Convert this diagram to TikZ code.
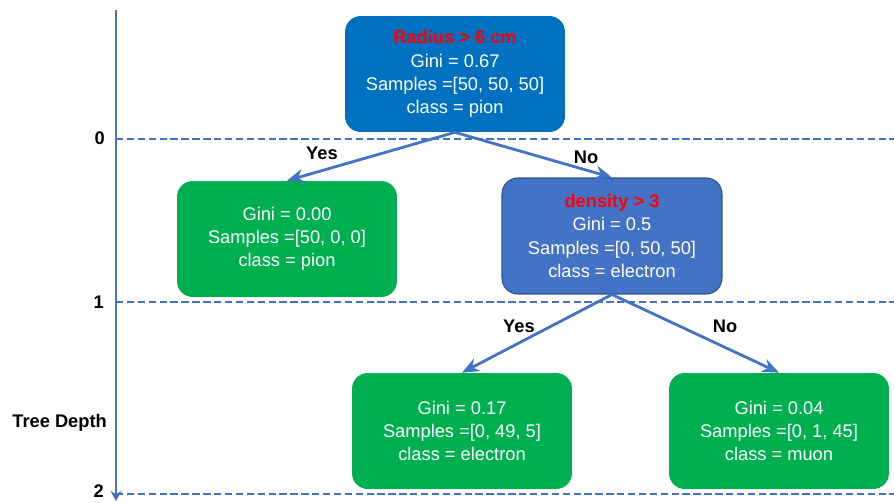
\documentclass[tikz,border=0pt]{standalone}
\usepackage{fontspec}
\setmainfont{Liberation Sans}
\usetikzlibrary{arrows.meta,positioning}
\definecolor{axisblue}{HTML}{4472C4}
\definecolor{rootblue}{HTML}{0070C0}
\definecolor{splitblue}{HTML}{4472C4}
\definecolor{edgeblue}{HTML}{2F528F}
\definecolor{leafgreen}{HTML}{00B050}
\definecolor{condred}{HTML}{FF0000}
\tikzset{
  treebox/.style  = {rectangle, rounded corners=9pt, minimum width=4.4cm,
                     minimum height=2.32cm, align=center, text=white,
                     font=\fontsize{10.4}{13.2}\selectfont},
  rootbox/.style  = {treebox, fill=rootblue},
  splitbox/.style = {treebox, fill=splitblue, draw=edgeblue, line width=0.6pt},
  leafbox/.style  = {treebox, fill=leafgreen},
  branch/.style   = {-{Stealth[length=3.4mm,width=2.8mm]}, axisblue, line width=1.6pt},
  levelline/.style= {axisblue, dash pattern=on 4.2pt off 2pt, line width=1.4pt},
  edgelabel/.style= {font=\fontsize{10.4}{13}\selectfont\bfseries, text=black},
}
\newcommand{\cond}[1]{\textcolor{condred}{\bfseries #1}}
\begin{document}
\begin{tikzpicture}[x=0.02cm,y=-0.02cm]
\useasboundingbox (0,0) rectangle (894,503);
% depth axis and levels
\coordinate (axtop) at (116,10);
\coordinate (axbot) at (116,501);
\draw[axisblue, line width=1.6pt, -{Stealth[length=2mm,width=2.2mm]}] (axtop) -- (axbot);
\coordinate (l0) at (116,139); \coordinate (r0) at (894,139);
\coordinate (l1) at (116,302); \coordinate (r1) at (894,302);
\coordinate (l2) at (116,494); \coordinate (r2) at (894,494);
\draw[levelline] (l0) -- (r0);
\draw[levelline] (l1) -- (r1);
\draw[levelline] (l2) -- (r2);
\node[edgelabel, anchor=east] (d0) at (111,138) {0};
\node[edgelabel, anchor=east] (d1) at (110,302) {1};
\node[edgelabel, anchor=east] (d2) at (110,491) {2};
\node[edgelabel, anchor=east] (depth) at (113,423) {Tree Depth};
% nodes
\node[rootbox]  (root)  at (455,74)  {\cond{Radius > 6 cm}\\Gini = 0.67\\Samples =[50, 50, 50]\\class = pion};
\node[leafbox]  (pion)  at (287,239) {Gini = 0.00\\Samples =[50, 0, 0]\\class = pion};
\node[splitbox] (dens)  at (612,236) {\cond{density > 3}\\Gini = 0.5\\Samples =[0, 50, 50]\\class = electron};
\node[leafbox]  (elec)  at (462,431) {Gini = 0.17\\Samples =[0, 49, 5]\\class = electron};
\node[leafbox]  (muon)  at (779,431) {Gini = 0.04\\Samples =[0, 1, 45]\\class = muon};
% branches
\draw[branch] (root.south) -- (pion.north);
\draw[branch] (root.south) -- (dens.north);
\draw[branch] (dens.south) -- (elec.north);
\draw[branch] (dens.south) -- (muon.north);
\node[edgelabel] (yes1) at (322,153) {Yes};
\node[edgelabel] (no1)  at (586,157) {No};
\node[edgelabel] (yes2) at (519,326) {Yes};
\node[edgelabel] (no2)  at (725,326) {No};
\end{tikzpicture}
\end{document}
